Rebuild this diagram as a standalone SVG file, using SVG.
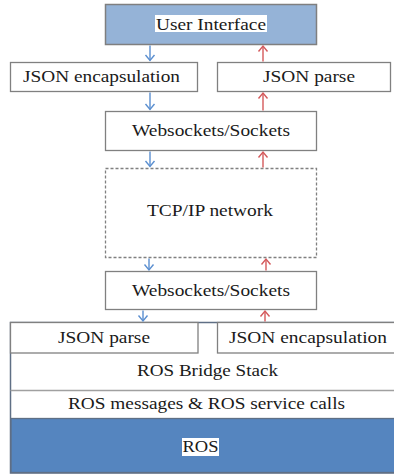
<svg xmlns="http://www.w3.org/2000/svg" width="394" height="474" viewBox="0 0 394 474" font-family="Liberation Serif, DejaVu Serif, serif">
<style>
.box{fill:#fff;stroke:#808080;stroke-width:1.3}
.dash{fill:#fff;stroke:#808080;stroke-width:1.3;stroke-dasharray:3,2}
text{font-family:"Liberation Serif","DejaVu Serif",serif}
.t{font-size:17.5px;fill:#1a1a1a;text-anchor:middle}
.down{stroke:#5b8fd0;stroke-width:1.4;fill:none;marker-end:url(#hb)}
.up{stroke:#d4595b;stroke-width:1.4;fill:none;marker-end:url(#hr)}
</style>
<defs>
<marker id="hb" markerUnits="userSpaceOnUse" markerWidth="12" markerHeight="12" viewBox="-7 -6 9 12" refX="0" refY="0" orient="auto"><path d="M-5.5,-4.5 L0,0 L-5.5,4.5" fill="none" stroke="#5b8fd0" stroke-width="1.4"/></marker>
<marker id="hr" markerUnits="userSpaceOnUse" markerWidth="12" markerHeight="12" viewBox="-7 -6 9 12" refX="0" refY="0" orient="auto"><path d="M-5.5,-4.5 L0,0 L-5.5,4.5" fill="none" stroke="#d4595b" stroke-width="1.4"/></marker>
</defs>
<rect width="394" height="474" fill="#fff"/>
<g id="user-interface">
<rect x="105.5" y="4.5" width="211" height="40" fill="#95b3d7" stroke="#7f7f7f" stroke-width="1.5"/>
<rect x="155" y="15" width="112" height="17" fill="#fff"/>
<text class="t" x="211" y="29.5" textLength="110" lengthAdjust="spacingAndGlyphs">User Interface</text>
</g>
<g id="json-encapsulation-top">
<rect class="box" x="10.5" y="62.5" width="187" height="29"/>
<text class="t" x="101.5" y="82" textLength="157" lengthAdjust="spacingAndGlyphs">JSON encapsulation</text>
</g>
<g id="json-parse-top">
<rect class="box" x="217.5" y="62.5" width="173" height="29"/>
<text class="t" x="309" y="82" textLength="92" lengthAdjust="spacingAndGlyphs">JSON parse</text>
</g>
<g id="websockets-top">
<rect class="box" x="105.5" y="111.5" width="211" height="39"/>
<text class="t" x="211" y="136" textLength="158" lengthAdjust="spacingAndGlyphs">Websockets/Sockets</text>
</g>
<g id="tcpip-network">
<rect class="dash" x="105.5" y="168.5" width="211" height="89"/>
<text class="t" x="210" y="216" textLength="126" lengthAdjust="spacingAndGlyphs">TCP/IP network</text>
</g>
<g id="websockets-bottom">
<rect class="box" x="105.5" y="271.5" width="211" height="38"/>
<text class="t" x="211" y="295.5" textLength="158" lengthAdjust="spacingAndGlyphs">Websockets/Sockets</text>
</g>
<g id="ros-bridge">
<rect x="10.5" y="322.5" width="400" height="150.5" fill="#fff" stroke="#5f6f85" stroke-width="1.5"/>
<line x1="10.5" y1="390.5" x2="394" y2="390.5" stroke="#a0a0a0" stroke-width="1.3"/>
<text class="t" x="207.5" y="376" textLength="141" lengthAdjust="spacingAndGlyphs">ROS Bridge Stack</text>
</g>
<g id="json-parse-bottom">
<rect class="box" x="10.5" y="322.5" width="187.5" height="30.5"/>
<text class="t" x="104" y="343" textLength="92" lengthAdjust="spacingAndGlyphs">JSON parse</text>
</g>
<g id="json-encapsulation-bottom">
<rect class="box" x="217.5" y="322.5" width="190" height="30.5"/>
<text class="t" x="308" y="343" textLength="158" lengthAdjust="spacingAndGlyphs">JSON encapsulation</text>
</g>
<g id="ros-messages">
<text class="t" x="206.5" y="409" textLength="277" lengthAdjust="spacingAndGlyphs">ROS messages &amp; ROS service calls</text>
</g>
<g id="ros">
<rect x="11" y="418.5" width="390" height="54" fill="#5585bf" stroke="#5f6f85" stroke-width="1.3"/>
<rect x="182" y="438" width="37" height="18" fill="#fff"/>
<text class="t" x="200.5" y="452" textLength="36" lengthAdjust="spacingAndGlyphs">ROS</text>
</g>
<g id="connectors">
<line class="down" x1="150" y1="45.5" x2="150" y2="60.5"/>
<line class="up" x1="263" y1="61.5" x2="263" y2="46"/>
<line class="down" x1="150" y1="92.5" x2="150" y2="109.5"/>
<line class="up" x1="263" y1="110.5" x2="263" y2="93"/>
<line class="down" x1="150" y1="151.5" x2="150" y2="166.5"/>
<line class="up" x1="263" y1="167.5" x2="263" y2="152"/>
<line class="down" x1="149" y1="258.5" x2="149" y2="270"/>
<line class="up" x1="266" y1="270.5" x2="266" y2="259"/>
<line class="down" x1="143" y1="310.5" x2="143" y2="321"/>
<line class="up" x1="265" y1="321.5" x2="265" y2="311"/>
</g>
</svg>
